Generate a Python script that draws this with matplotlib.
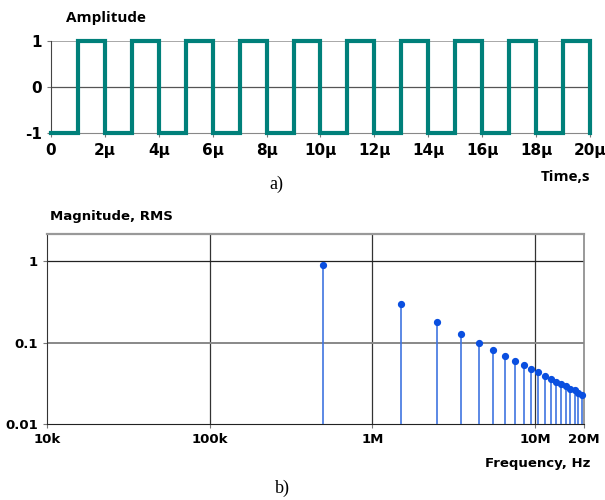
import numpy as np
import matplotlib.pyplot as plt

plt.rcParams['font.family'] = 'DejaVu Sans'
plt.rcParams['figure.facecolor'] = 'white'

# square wave: switching instants (us) and level held after each instant
t_edges = [0, 1, 2, 3, 4, 5, 6, 7, 8, 9, 10, 11, 12, 13, 14, 15, 16, 17, 18, 19, 20]
levels = [-1, 1, -1, 1, -1, 1, -1, 1, -1, 1, -1, 1, -1, 1, -1, 1, -1, 1, -1, 1, -1]

# spectrum: harmonic frequencies (MHz) and RMS magnitudes
freq_mhz = [0.5, 1.5, 2.5, 3.5, 4.5, 5.5, 6.5, 7.5, 8.5, 9.5,
            10.5, 11.5, 12.5, 13.5, 14.5, 15.5, 16.5, 17.5, 18.5, 19.5]
mag_rms = [0.90, 0.30, 0.18, 0.129, 0.100, 0.082, 0.069, 0.060, 0.053, 0.047,
           0.043, 0.039, 0.036, 0.033, 0.031, 0.029, 0.027, 0.026, 0.024, 0.023]

x_ticks_top = [0, 2, 4, 6, 8, 10, 12, 14, 16, 18, 20]
x_labels_top = ['0'] + [f'{v}\u00b5' for v in x_ticks_top[1:]]
f_ticks = [1e4, 1e5, 1e6, 1e7, 2e7]
f_labels = ['10k', '100k', '1M', '10M', '20M']
m_ticks = [0.01, 0.1, 1]
m_labels = ['0.01', '0.1', '1']

W, H = 605, 500
fig = plt.figure(figsize=(W / 100, H / 100), dpi=100)

# ---- a) time domain
ax1 = fig.add_axes([51 / W, 1 - 133 / H, 539 / W, 92 / H])
t = np.array(t_edges, dtype=float) * 1e-6
lv = np.array(levels, dtype=float)
tx = np.repeat(t, 2)[1:]
ty = np.repeat(lv, 2)[:-1]
ax1.plot(tx, ty, color='#00807a', linewidth=3.0,
         solid_joinstyle='miter', clip_on=False, zorder=3)
ax1.set_xlim(0, 20e-6)
ax1.set_ylim(-1, 1)
ax1.set_xticks(np.array(x_ticks_top) * 1e-6)
ax1.set_xticklabels(x_labels_top)
ax1.set_yticks([-1, 0, 1])
ax1.set_yticklabels(['-1', '0', '1'])
ax1.axhline(0, color='#555555', linewidth=0.9, zorder=1)
ax1.axhline(1, color='#999999', linewidth=1.2, zorder=1)
ax1.spines['top'].set_visible(False)
ax1.spines['left'].set_color('#444444')
ax1.spines['right'].set_color('#333333')
ax1.spines['bottom'].set_color('#888888')
ax1.tick_params(axis='both', direction='out', length=3, width=0.8,
                colors='#777777', labelcolor='black', labelsize=11)
for lab in ax1.get_xticklabels() + ax1.get_yticklabels():
    lab.set_fontweight('bold')
ax1.tick_params(axis='x', pad=4)
fig.text(66 / W, 1 - 18 / H, 'Amplitude', fontsize=11, fontweight='bold',
         family='Open Sans', va='center', ha='left')
fig.text(590 / W, 1 - 177 / H, 'Time,s', fontsize=11, fontweight='bold',
         family='Open Sans', va='center', ha='right')
fig.text(276 / W, 1 - 184 / H, 'a)', fontsize=13, family='Liberation Serif',
         va='center', ha='center')

# ---- b) spectrum
ax2 = fig.add_axes([47 / W, 1 - 424 / H, 537 / W, 190 / H])
f = np.array(freq_mhz) * 1e6
m = np.array(mag_rms)
ax2.vlines(f, 0.01, m, color='#3f74e0', linewidth=1.2, zorder=3)
ax2.plot(f, m, 'o', color='#0a4fe0', markersize=4.2, zorder=4, clip_on=False)
ax2.set_xscale('log')
ax2.set_yscale('log')
ax2.set_xlim(1e4, 2e7)
ax2.set_ylim(0.01, 2.15)
ax2.set_xticks(f_ticks)
ax2.set_xticklabels(f_labels)
ax2.set_yticks(m_ticks)
ax2.set_yticklabels(m_labels)
ax2.minorticks_off()
for v in [1e5, 1e6, 1e7]:
    ax2.axvline(v, color='#333333', linewidth=0.9, zorder=1)
ax2.axhline(1, color='#222222', linewidth=0.9, zorder=1)
ax2.axhline(0.1, color='#888888', linewidth=1.4, zorder=1)
ax2.spines['top'].set_color('#999999')
ax2.spines['top'].set_linewidth(1.6)
ax2.spines['right'].set_color('#888888')
ax2.spines['right'].set_linewidth(1.2)
ax2.spines['left'].set_color('#333333')
ax2.spines['bottom'].set_color('#222222')
ax2.tick_params(axis='both', direction='out', length=3, width=0.8,
                colors='#777777', labelcolor='black', labelsize=9.5)
for lab in ax2.get_xticklabels() + ax2.get_yticklabels():
    lab.set_fontweight('bold')
fig.text(50 / W, 1 - 217 / H, 'Magnitude, RMS', fontsize=9.5, fontweight='bold',
         va='center', ha='left')
fig.text(590 / W, 1 - 463 / H, 'Frequency, Hz', fontsize=9.5, fontweight='bold',
         va='center', ha='right')
fig.text(282 / W, 1 - 488 / H, 'b)', fontsize=13, family='Liberation Serif',
         va='center', ha='center')

fig.savefig('out.png', dpi=100)
